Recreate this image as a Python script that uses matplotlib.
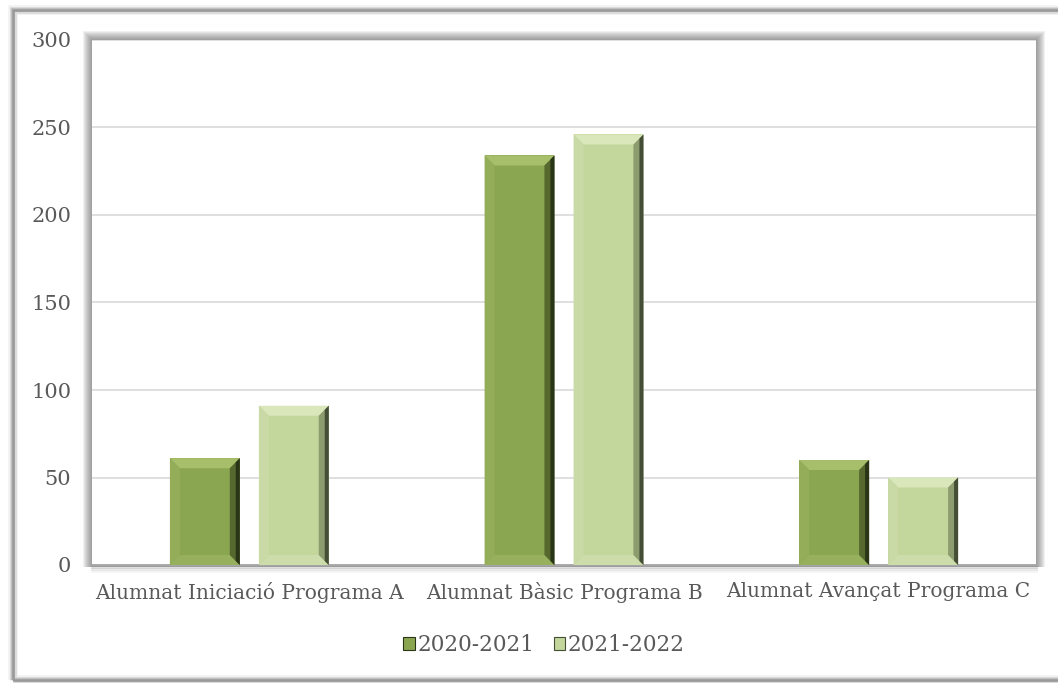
import matplotlib
matplotlib.use("Agg")
import matplotlib.pyplot as plt
from matplotlib.patches import Polygon, Rectangle, Patch
from matplotlib.lines import Line2D
import numpy as np

categories = ["Alumnat Iniciació Programa A", "Alumnat Bàsic Programa B", "Alumnat Avançat Programa C"]
series_names = ["2020-2021", "2021-2022"]
values_2020 = [61, 234, 60]
values_2021 = [91, 246, 50]
yticks = [0, 50, 100, 150, 200, 250, 300]

W, H = 1058, 683
fig = plt.figure(figsize=(W / 100, H / 100), dpi=100)
fig.patch.set_facecolor("white")

FONT = "DejaVu Serif"
TXT = "#595959"


def frame(x0, y0, x1, y1, color, lws, alphas, zorder=0):
    for lw, a in zip(lws, alphas):
        fig.add_artist(Rectangle((x0 / W, 1 - y1 / H), (x1 - x0) / W, (y1 - y0) / H,
                                 transform=fig.transFigure, fill=False,
                                 edgecolor=color, lw=lw, alpha=a, zorder=zorder))


# outer chart frame with soft shadow
frame(13, 10, 1070, 680, "#808080", [7, 5, 3, 1.8], [0.1, 0.18, 0.3, 0.6])

L, T, R, B = 92, 40, 1036, 565

# soft shadow around plot area (filled, below axes)
for i in range(1, 10):
    fig.add_artist(Rectangle(((L - i) / W, 1 - (B + 2) / H), (R - L + 2 * i) / W, (B + 2 - (T - i)) / H,
                             transform=fig.transFigure, facecolor="#606060", edgecolor="none",
                             alpha=0.09, zorder=-2))

ax = fig.add_axes([L / W, 1 - B / H, (R - L) / W, (B - T) / H])
ax.set_facecolor("white")
ax.set_zorder(1)

x = np.arange(len(categories))
bw = 0.222
off = 0.1414

base_cols = ["#8ba650", "#c3d69b"]
top_cols = ["#a7be6a", "#dae7bb"]
left_cols = ["#93ad58", "#c9daa6"]
right_cols = ["#56682e", "#8d9c6e"]
right_edge = ["#2a3416", "#444d36"]
bot_cols = ["#97b05e", "#cddcab"]

ax.set_xlim(-0.5, len(categories) - 0.5)
ax.set_ylim(0, 300)

px_per_x = (R - L) / len(categories)
px_per_y = (B - T) / 300.0
bx = 10 / px_per_x
by = 10 / px_per_y

for si, vals in enumerate([values_2020, values_2021]):
    xs = x + (-off if si == 0 else off)
    bars = ax.bar(xs, vals, width=bw, color=base_cols[si], zorder=3, label=series_names[si])
    for b in bars:
        x0 = b.get_x(); x1 = x0 + b.get_width(); h = b.get_height()
        dy = min(by, h / 2)
        ax.add_patch(Polygon([(x0, h), (x1, h), (x1 - bx, h - dy), (x0 + bx, h - dy)],
                             closed=True, color=top_cols[si], lw=0, zorder=4))
        ax.add_patch(Polygon([(x0, 0), (x0, h), (x0 + bx, h - dy), (x0 + bx, dy)],
                             closed=True, color=left_cols[si], lw=0, zorder=4))
        ax.add_patch(Polygon([(x0, 0), (x1, 0), (x1 - bx, dy), (x0 + bx, dy)],
                             closed=True, color=bot_cols[si], lw=0, zorder=4))
        ax.add_patch(Polygon([(x1, 0), (x1, h), (x1 - bx, h - dy), (x1 - bx, dy)],
                             closed=True, color=right_cols[si], lw=0, zorder=4))
        ax.add_patch(Polygon([(x1, 0), (x1, h), (x1 - bx * 0.4, h - dy * 0.4), (x1 - bx * 0.4, dy * 0.4)],
                             closed=True, color=right_edge[si], lw=0, zorder=4))

ax.set_yticks(yticks)
ax.set_yticklabels([str(v) for v in yticks], fontsize=15, color=TXT, family=FONT)
ax.set_xticks(x)
ax.set_xticklabels(categories, fontsize=14.5, color=TXT, family=FONT)
ax.tick_params(axis="both", length=0)
ax.tick_params(axis="y", pad=15)
ax.tick_params(axis="x", pad=12)
ax.yaxis.grid(True, color="#d9d9d9", lw=1.2, zorder=0)
ax.set_axisbelow(True)
for s in ["left", "right", "top"]:
    ax.spines[s].set_visible(False)
ax.spines["bottom"].set_color("#a6a6a6")
ax.spines["bottom"].set_linewidth(2)

# shadow under baseline
for i, a in enumerate([0.25, 0.15, 0.08]):
    fig.add_artist(Line2D([L / W, R / W], [1 - (B + 2 + i * 2) / H] * 2, transform=fig.transFigure,
                          color="#808080", lw=2, alpha=a, zorder=2))

handles = [Patch(facecolor=base_cols[0], edgecolor=right_edge[0], lw=0.8),
           Patch(facecolor=base_cols[1], edgecolor=right_edge[1], lw=0.8)]
leg = fig.legend(handles, series_names, loc="center", bbox_to_anchor=(544 / W, 1 - 645 / H),
                 ncol=2, frameon=False, prop={"family": FONT, "size": 15.5},
                 handlelength=0.55, handleheight=0.55, handletextpad=0.1, columnspacing=0.9)
for t in leg.get_texts():
    t.set_color(TXT)

fig.savefig("out.png", dpi=100)
